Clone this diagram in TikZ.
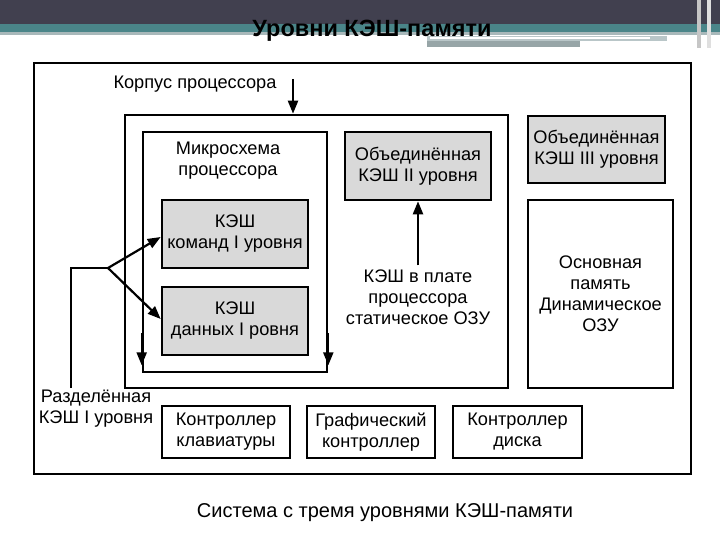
\documentclass[tikz,border=0pt]{standalone}
\usepackage{fontspec}
\setmainfont{Liberation Sans}
\usetikzlibrary{arrows.meta}
\definecolor{hdark}{HTML}{41404F}
\definecolor{hteal}{HTML}{4A8589}
\definecolor{hline}{HTML}{A8B8BA}
\definecolor{boxgray}{HTML}{D9D9D9}
\tikzset{
  box/.style={draw=black, line width=2.6pt, rectangle, inner sep=0pt, align=center,
    font=\fontsize{18.2}{21}\selectfont},
  graybox/.style={box, fill=boxgray},
  txt/.style={inner sep=0pt, align=center, font=\fontsize{18.2}{21}\selectfont},
  arr/.style={line width=2.2pt, -{Triangle[length=13pt,width=10pt]}},
  ln/.style={line width=2.2pt},
}
\begin{document}
\begin{tikzpicture}[x=1pt,y=-1pt]
\useasboundingbox (0,0) rectangle (720,540);
% header
\fill[hdark] (0,0) rectangle (720,24);
\fill[hteal] (0,24) rectangle (720,32);
\fill[hline] (0,32) rectangle (720,35);
\fill[hline!80] (427,36) rectangle (667,41);
\fill[white] (430,37.5) rectangle (650,39.5);
\fill[hline!90!black] (427,41) rectangle (580,47);
\fill[gray!45] (697,0) rectangle (701,48);
\fill[gray!25] (707,0) rectangle (711,48);
\node[inner sep=0pt, font=\fontsize{23.5}{26}\bfseries] (title) at (372,31) {Уровни КЭШ-памяти};

% boxes
\node[box, minimum width=657, minimum height=411] (outer) at (362.5,268.5) {};
\node[box, minimum width=383, minimum height=273] (pkg) at (316.5,251.5) {};
\node[box, minimum width=184, minimum height=240] (chip) at (235,252) {};
\node[graybox, minimum width=146, minimum height=68] (l1i) at (235,234) {КЭШ\\команд I уровня};
\node[graybox, minimum width=146, minimum height=68] (l1d) at (235,321) {КЭШ\\данных I ровня};
\node[graybox, minimum width=146, minimum height=68] (l2) at (418,166) {Объединённая\\КЭШ II уровня};
\node[graybox, minimum width=137, minimum height=67] (l3) at (596.5,149.5) {Объединённая\\КЭШ III уровня};
\node[box, minimum width=145, minimum height=188] (mem) at (600.5,294) {Основная\\память\\Динамическое\\ОЗУ};
\node[box, minimum width=128, minimum height=52] (kbd) at (226,432) {Контроллер\\клавиатуры};
\node[box, minimum width=128, minimum height=52] (gfx) at (371,432) {Графический\\контроллер};
\node[box, minimum width=129, minimum height=52] (disk) at (517.5,432) {Контроллер\\диска};

% labels
\node[txt] (chiplbl) at (228,161) {Микросхема\\процессора};
\node[txt] (pkglbl) at (195,84) {Корпус процессора};
\node[txt] (sram) at (418,297) {КЭШ в плате\\процессора\\статическое ОЗУ};
\node[txt] (split) at (96,409) {Разделённая\\КЭШ I уровня};
\node[inner sep=0pt, font=\fontsize{20}{24}\selectfont] (cap) at (385,513) {Система с тремя уровнями КЭШ-памяти};

% connectors
\coordinate (ka) at (293,79);
\draw[arr] (ka) -- (ka |- pkg.north);
\draw[arr] ([yshift=4pt]sram.north) -- (l2.south);
\coordinate (sv) at (71,388);
\coordinate (sp) at (108,268);
\draw[ln] (sv) |- (sp);
\draw[arr] (sp) -- ([yshift=-3pt]l1i.west);
\draw[arr] (sp) -- ([yshift=2pt]l1d.west);
\draw[arr] ([yshift=40pt]chip.south west) -- ([yshift=8pt]chip.south west);
\draw[arr] ([yshift=40pt]chip.south east) -- ([yshift=8pt]chip.south east);
\end{tikzpicture}
\end{document}
